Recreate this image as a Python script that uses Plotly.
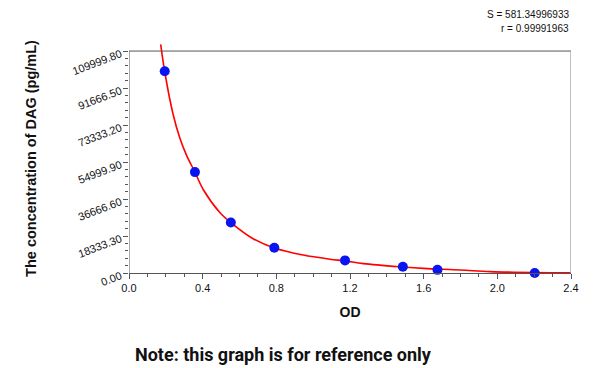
import plotly.graph_objects as go

# Standard points (OD vs concentration)
od = [0.194, 0.358, 0.553, 0.789, 1.173, 1.487, 1.675, 2.203]
conc = [100000, 50000, 25000, 12500, 6250, 3125, 1562.5, 0]

# Fitted curve
curve_od = [0.172, 0.194, 0.239, 0.276, 0.312, 0.358, 0.403, 0.493, 0.553, 0.674,
            0.789, 0.946, 1.091, 1.173, 1.273, 1.487, 1.6, 1.8, 1.96, 2.2, 2.4]
curve_conc = [113300, 99740, 78800, 66900, 58400, 50000, 41400, 30000, 25000, 17000,
              12400, 8900, 6850, 6000, 4650, 2980, 2300, 1500, 700, 200, 60]

y_ticks = [0.00, 18333.30, 36666.60, 54999.90, 73333.20, 91666.50, 109999.80]
y_tick_text = ["0.00", "18333.30", "36666.60", "54999.90", "73333.20", "91666.50", "109999.80"]
x_ticks = [0.0, 0.4, 0.8, 1.2, 1.6, 2.0, 2.4]
x_tick_text = ["0.0", "0.4", "0.8", "1.2", "1.6", "2.0", "2.4"]

y_top = y_ticks[-1]
y_minor = [i * y_top / 30 for i in range(31)]
x_minor = [i * 0.1 for i in range(25)]

fig = go.Figure()
fig.add_trace(go.Scatter(x=curve_od, y=curve_conc, mode="lines",
                         line=dict(color="#ff0000", width=1.6, shape="spline", smoothing=1.0),
                         hoverinfo="skip", showlegend=False))
fig.add_trace(go.Scatter(x=od, y=conc, mode="markers",
                         marker=dict(color="#0a14f0", size=10, line=dict(width=0)),
                         cliponaxis=False, showlegend=False))

axis_col = "#555555"
fig.update_layout(
    width=600, height=368,
    margin=dict(l=129, r=29, t=44, b=95, autoexpand=False),
    paper_bgcolor="white", plot_bgcolor="white",
    font=dict(family="Arial, Liberation Sans, sans-serif", color="#111111"),
    xaxis=dict(range=[0, 2.4], tickmode="array", tickvals=x_ticks, ticktext=x_tick_text,
               ticks="outside", ticklen=5, tickcolor=axis_col, showgrid=False, zeroline=False,
               showline=True, linecolor=axis_col, linewidth=1, automargin=False,
               minor=dict(tickmode="array", tickvals=x_minor, ticks="outside", ticklen=3,
                          tickcolor=axis_col, showgrid=False),
               tickfont=dict(size=11, color="#111111"),
               title=dict(text="<b>OD</b>", font=dict(size=14, color="#111111"), standoff=13)),
    yaxis=dict(range=[0, 113500], tickmode="array", tickvals=y_ticks, ticktext=y_tick_text,
               ticks="outside", ticklen=5, tickcolor=axis_col, showgrid=False, zeroline=False,
               showline=False, tickangle=-21, automargin=False, ticklabelshift=2,
               minor=dict(tickmode="array", tickvals=y_minor, ticks="outside", ticklen=3,
                          tickcolor=axis_col, showgrid=False),
               tickfont=dict(size=11, color="#111111"),
               title=dict(text="<b>The concentration of DAG (pg/mL)</b>",
                          font=dict(size=14.5, color="#111111"), standoff=30)),
    shapes=[
        dict(type="line", xref="x", yref="y", x0=0, x1=0, y0=0, y1=y_top,
             line=dict(color=axis_col, width=1)),
        dict(type="line", xref="x", yref="y", x0=0, x1=2.4, y0=y_top, y1=y_top,
             line=dict(color=axis_col, width=1)),
        dict(type="line", xref="x", yref="y", x0=2.4, x1=2.4, y0=0, y1=y_top,
             line=dict(color="#aaaaaa", width=1.5)),
    ],
    annotations=[
        dict(text="S = 581.34996933", xref="paper", yref="paper", x=1.0, y=1.0,
             yshift=30, xanchor="right", yanchor="middle", showarrow=False,
             font=dict(size=10, color="#111111")),
        dict(text="r = 0.99991963", xref="paper", yref="paper", x=1.0, y=1.0,
             yshift=16, xanchor="right", yanchor="middle", showarrow=False,
             font=dict(size=10, color="#111111")),
        dict(text="<b>Note: this graph is for reference only</b>", xref="paper", yref="paper",
             x=0.5, y=0, xshift=-67, yshift=-81, xanchor="center", yanchor="middle",
             showarrow=False, font=dict(size=18, color="#111111", family="Roboto, Arial")),
    ],
)

fig.write_html("out.html", config={"displayModeBar": False},
               post_script="document.body.style.margin='0';document.body.style.padding='0';")
